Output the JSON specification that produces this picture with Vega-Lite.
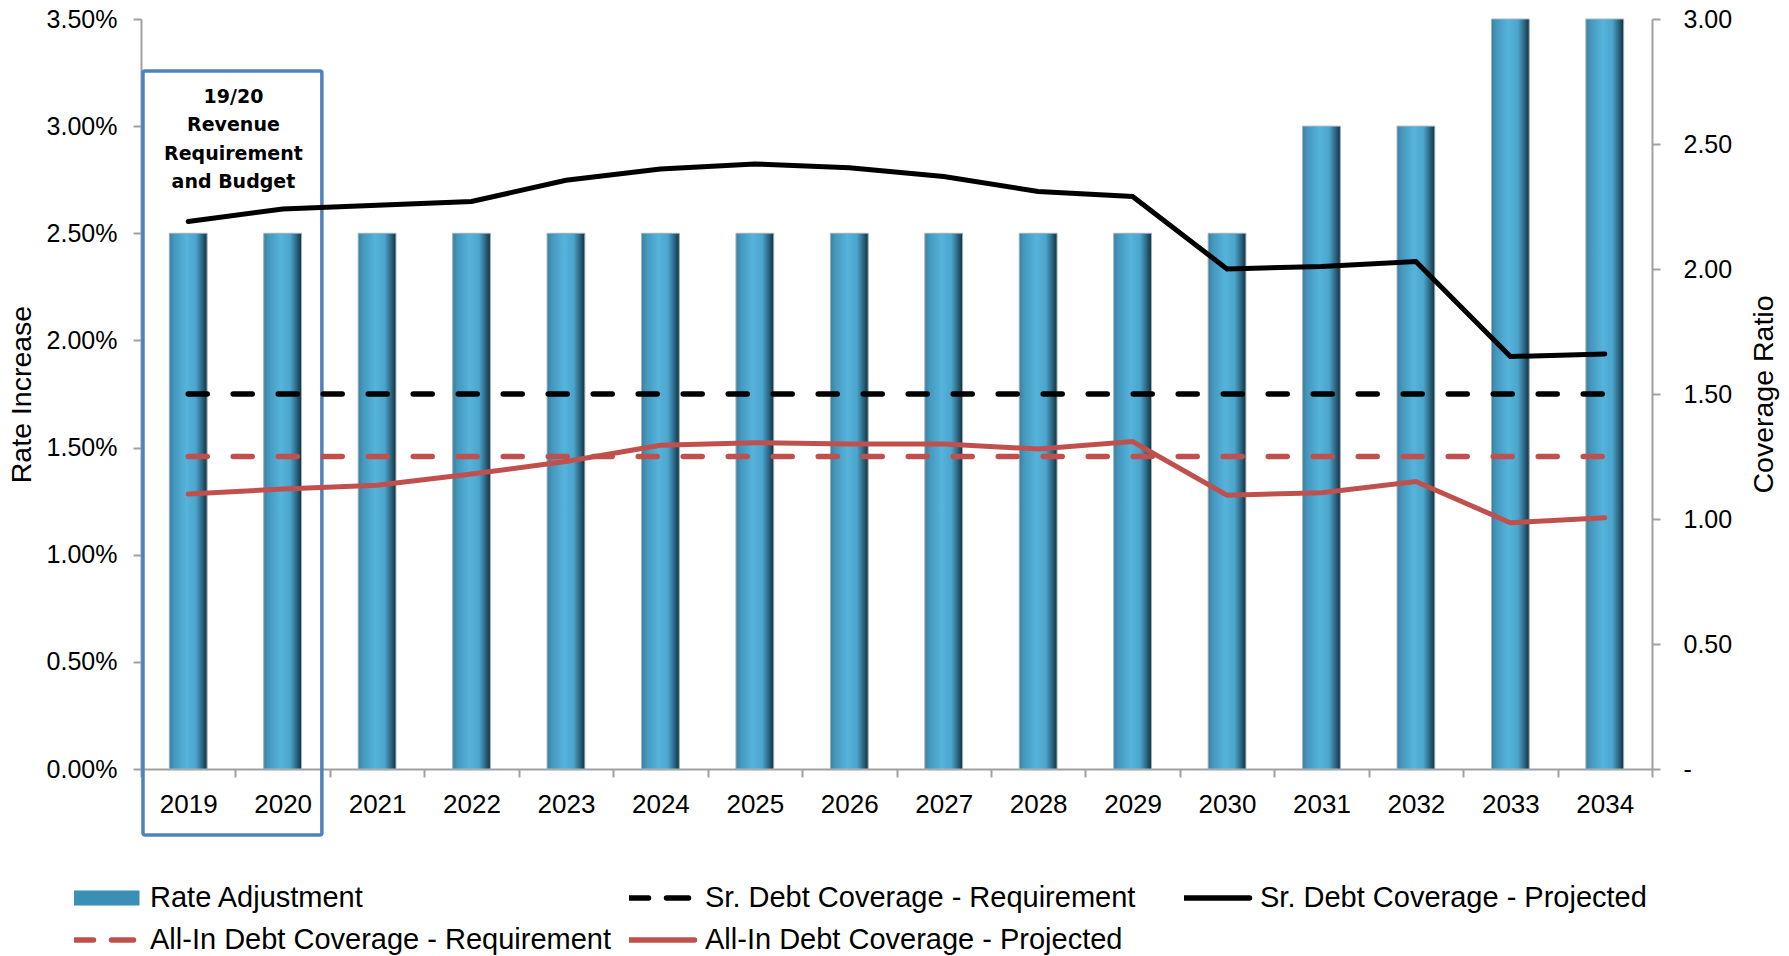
{
  "$schema": "https://vega.github.io/schema/vega-lite/v6.json",
  "width": 1511,
  "height": 750,
  "autosize": {"type": "none"},
  "padding": {"left": 141, "top": 19, "right": 137, "bottom": 187},
  "background": "white",
  "config": {
    "view": {"stroke": null},
    "font": "Liberation Sans",
    "axisX": {
      "labelAngle": 0,
      "tickBand": "extent",
      "tickSize": 8,
      "tickWidth": 2,
      "tickColor": "#a0a0a0",
      "domainColor": "#a0a0a0",
      "domainWidth": 2,
      "grid": false,
      "labelFont": "Liberation Sans",
      "labelFontSize": 26,
      "labelColor": "#000000",
      "labelPadding": 14
    }
  },
  "datasets": {
    "series": [
      {"year": "2019", "series": "Rate Adjustment", "value": 0.025},
      {"year": "2020", "series": "Rate Adjustment", "value": 0.025},
      {"year": "2021", "series": "Rate Adjustment", "value": 0.025},
      {"year": "2022", "series": "Rate Adjustment", "value": 0.025},
      {"year": "2023", "series": "Rate Adjustment", "value": 0.025},
      {"year": "2024", "series": "Rate Adjustment", "value": 0.025},
      {"year": "2025", "series": "Rate Adjustment", "value": 0.025},
      {"year": "2026", "series": "Rate Adjustment", "value": 0.025},
      {"year": "2027", "series": "Rate Adjustment", "value": 0.025},
      {"year": "2028", "series": "Rate Adjustment", "value": 0.025},
      {"year": "2029", "series": "Rate Adjustment", "value": 0.025},
      {"year": "2030", "series": "Rate Adjustment", "value": 0.025},
      {"year": "2031", "series": "Rate Adjustment", "value": 0.03},
      {"year": "2032", "series": "Rate Adjustment", "value": 0.03},
      {"year": "2033", "series": "Rate Adjustment", "value": 0.035},
      {"year": "2034", "series": "Rate Adjustment", "value": 0.035},
      {"year": "2019", "series": "Sr. Debt Coverage  - Requirement", "value": 1.5},
      {"year": "2020", "series": "Sr. Debt Coverage  - Requirement", "value": 1.5},
      {"year": "2021", "series": "Sr. Debt Coverage  - Requirement", "value": 1.5},
      {"year": "2022", "series": "Sr. Debt Coverage  - Requirement", "value": 1.5},
      {"year": "2023", "series": "Sr. Debt Coverage  - Requirement", "value": 1.5},
      {"year": "2024", "series": "Sr. Debt Coverage  - Requirement", "value": 1.5},
      {"year": "2025", "series": "Sr. Debt Coverage  - Requirement", "value": 1.5},
      {"year": "2026", "series": "Sr. Debt Coverage  - Requirement", "value": 1.5},
      {"year": "2027", "series": "Sr. Debt Coverage  - Requirement", "value": 1.5},
      {"year": "2028", "series": "Sr. Debt Coverage  - Requirement", "value": 1.5},
      {"year": "2029", "series": "Sr. Debt Coverage  - Requirement", "value": 1.5},
      {"year": "2030", "series": "Sr. Debt Coverage  - Requirement", "value": 1.5},
      {"year": "2031", "series": "Sr. Debt Coverage  - Requirement", "value": 1.5},
      {"year": "2032", "series": "Sr. Debt Coverage  - Requirement", "value": 1.5},
      {"year": "2033", "series": "Sr. Debt Coverage  - Requirement", "value": 1.5},
      {"year": "2034", "series": "Sr. Debt Coverage  - Requirement", "value": 1.5},
      {"year": "2019", "series": "Sr. Debt Coverage  - Projected", "value": 2.19},
      {"year": "2020", "series": "Sr. Debt Coverage  - Projected", "value": 2.24},
      {"year": "2021", "series": "Sr. Debt Coverage  - Projected", "value": 2.255},
      {"year": "2022", "series": "Sr. Debt Coverage  - Projected", "value": 2.27},
      {"year": "2023", "series": "Sr. Debt Coverage  - Projected", "value": 2.355},
      {"year": "2024", "series": "Sr. Debt Coverage  - Projected", "value": 2.4},
      {"year": "2025", "series": "Sr. Debt Coverage  - Projected", "value": 2.42},
      {"year": "2026", "series": "Sr. Debt Coverage  - Projected", "value": 2.405},
      {"year": "2027", "series": "Sr. Debt Coverage  - Projected", "value": 2.37},
      {"year": "2028", "series": "Sr. Debt Coverage  - Projected", "value": 2.31},
      {"year": "2029", "series": "Sr. Debt Coverage  - Projected", "value": 2.29},
      {"year": "2030", "series": "Sr. Debt Coverage  - Projected", "value": 2.0},
      {"year": "2031", "series": "Sr. Debt Coverage  - Projected", "value": 2.01},
      {"year": "2032", "series": "Sr. Debt Coverage  - Projected", "value": 2.03},
      {"year": "2033", "series": "Sr. Debt Coverage  - Projected", "value": 1.65},
      {"year": "2034", "series": "Sr. Debt Coverage  - Projected", "value": 1.66},
      {"year": "2019", "series": "All-In Debt Coverage - Requirement", "value": 1.25},
      {"year": "2020", "series": "All-In Debt Coverage - Requirement", "value": 1.25},
      {"year": "2021", "series": "All-In Debt Coverage - Requirement", "value": 1.25},
      {"year": "2022", "series": "All-In Debt Coverage - Requirement", "value": 1.25},
      {"year": "2023", "series": "All-In Debt Coverage - Requirement", "value": 1.25},
      {"year": "2024", "series": "All-In Debt Coverage - Requirement", "value": 1.25},
      {"year": "2025", "series": "All-In Debt Coverage - Requirement", "value": 1.25},
      {"year": "2026", "series": "All-In Debt Coverage - Requirement", "value": 1.25},
      {"year": "2027", "series": "All-In Debt Coverage - Requirement", "value": 1.25},
      {"year": "2028", "series": "All-In Debt Coverage - Requirement", "value": 1.25},
      {"year": "2029", "series": "All-In Debt Coverage - Requirement", "value": 1.25},
      {"year": "2030", "series": "All-In Debt Coverage - Requirement", "value": 1.25},
      {"year": "2031", "series": "All-In Debt Coverage - Requirement", "value": 1.25},
      {"year": "2032", "series": "All-In Debt Coverage - Requirement", "value": 1.25},
      {"year": "2033", "series": "All-In Debt Coverage - Requirement", "value": 1.25},
      {"year": "2034", "series": "All-In Debt Coverage - Requirement", "value": 1.25},
      {"year": "2019", "series": "All-In Debt Coverage - Projected", "value": 1.1},
      {"year": "2020", "series": "All-In Debt Coverage - Projected", "value": 1.12},
      {"year": "2021", "series": "All-In Debt Coverage - Projected", "value": 1.135},
      {"year": "2022", "series": "All-In Debt Coverage - Projected", "value": 1.18},
      {"year": "2023", "series": "All-In Debt Coverage - Projected", "value": 1.23},
      {"year": "2024", "series": "All-In Debt Coverage - Projected", "value": 1.295},
      {"year": "2025", "series": "All-In Debt Coverage - Projected", "value": 1.305},
      {"year": "2026", "series": "All-In Debt Coverage - Projected", "value": 1.3},
      {"year": "2027", "series": "All-In Debt Coverage - Projected", "value": 1.3},
      {"year": "2028", "series": "All-In Debt Coverage - Projected", "value": 1.28},
      {"year": "2029", "series": "All-In Debt Coverage - Projected", "value": 1.31},
      {"year": "2030", "series": "All-In Debt Coverage - Projected", "value": 1.095},
      {"year": "2031", "series": "All-In Debt Coverage - Projected", "value": 1.105},
      {"year": "2032", "series": "All-In Debt Coverage - Projected", "value": 1.15},
      {"year": "2033", "series": "All-In Debt Coverage - Projected", "value": 0.985},
      {"year": "2034", "series": "All-In Debt Coverage - Projected", "value": 1.005}
    ],
    "box": [
      {"year": "2019", "year2": "2020", "value": 0.032573, "value2": -0.00308}
    ],
    "notes": [
      {"year": "2019", "value": 0.03138, "label": "19/20"},
      {"year": "2019", "value": 0.03005, "label": "Revenue"},
      {"year": "2019", "value": 0.02870, "label": "Requirement"},
      {"year": "2019", "value": 0.02740, "label": "and Budget"}
    ]
  },
  "encoding": {
    "x": {
      "field": "year",
      "type": "nominal",
      "title": null,
      "sort": null,
      "scale": {
        "domain": ["2019","2020","2021","2022","2023","2024","2025","2026","2027","2028","2029","2030","2031","2032","2033","2034"],
        "paddingInner": 0,
        "paddingOuter": 0
      }
    }
  },
  "layer": [
    {
      "encoding": {
        "y": {
          "field": "value",
          "type": "quantitative",
          "title": "Rate Increase",
          "scale": {"domain": [0, 0.035], "nice": false, "zero": true},
          "axis": {
            "orient": "left",
            "values": [0, 0.005, 0.01, 0.015, 0.02, 0.025, 0.03, 0.035],
            "format": ".2%",
            "grid": false,
            "domainColor": "#a0a0a0",
            "domainWidth": 2,
            "tickColor": "#a0a0a0",
            "tickWidth": 2,
            "tickSize": 8,
            "labelPadding": 16,
            "labelFont": "Liberation Sans",
            "labelFontSize": 25,
            "labelColor": "#000000",
            "titleFont": "Liberation Sans",
            "titleFontSize": 28.5,
            "titleFontWeight": "normal",
            "titleColor": "#000000",
            "titleX": -120,
            "titleY": 375,
            "titleAngle": 270,
            "titleAlign": "center",
            "titleBaseline": "middle"
          }
        }
      },
      "layer": [
        {
          "data": {"name": "series"},
          "transform": [{"filter": {"field": "series", "equal": "Rate Adjustment"}}],
          "mark": {"type": "bar", "width": {"band": 0.4}},
          "encoding": {
            "color": {
              "field": "series",
              "type": "nominal",
              "scale": {
                "domain": ["Rate Adjustment", "Sr. Debt Coverage  - Requirement", "Sr. Debt Coverage  - Projected", "All-In Debt Coverage - Requirement", "All-In Debt Coverage - Projected"],
                "range": ["#3a8fb7", "#000000", "#000000", "#C0504D", "#C0504D"]
              },
              "legend": {
                "orient": "none",
                "legendX": -67,
                "legendY": 860,
                "direction": "horizontal",
                "columns": 3,
                "gridAlign": "all",
                "columnPadding": 18,
                "rowPadding": 4,
                "clipHeight": 38,
                "padding": 0,
                "title": null,
                "symbolType": "stroke",
                "symbolSize": 4624,
                "symbolStrokeWidth": 15,
                "symbolOffset": 17,
                "labelFont": "Liberation Sans",
                "labelFontSize": 29,
                "labelColor": "#000000",
                "labelOffset": 30,
                "labelLimit": 700,
                "encode": {
                  "symbols": {
                    "update": {
                      "stroke": {"scale": "color", "field": "value"},
                      "strokeWidth": {"signal": "datum.value === 'Rate Adjustment' ? 15 : 5.5"},
                      "strokeDash": {"signal": "indexof(datum.value, 'Requirement') >= 0 ? [22, 18] : []"},
                      "strokeCap": {"signal": "datum.value === 'Rate Adjustment' ? 'butt' : 'round'"}
                    }
                  }
                }
              }
            }
          }
        },
        {
          "data": {"name": "series"},
          "transform": [{"filter": {"field": "series", "equal": "Rate Adjustment"}}],
          "mark": {
            "type": "bar",
            "width": {"band": 0.4},
            "stroke": "#a8b4ba",
            "strokeWidth": 1,
            "fill": {
              "gradient": "linear",
              "x1": 0, "y1": 0, "x2": 1, "y2": 0,
              "stops": [
                {"offset": 0, "color": "#3a7f9f"},
                {"offset": 0.12, "color": "#4397bd"},
                {"offset": 0.45, "color": "#56b3db"},
                {"offset": 0.7, "color": "#4ba5cc"},
                {"offset": 0.86, "color": "#2e6a86"},
                {"offset": 1, "color": "#12303f"}
              ]
            }
          }
        },
        {
          "data": {"name": "box"},
          "mark": {"type": "rect", "filled": false, "stroke": "#4F81BD", "strokeWidth": 3.5, "cornerRadius": 2, "xOffset": 2, "x2Offset": -8},
          "encoding": {
            "x": {"field": "year", "type": "nominal", "title": null, "bandPosition": 0},
            "x2": {"field": "year2", "bandPosition": 1},
            "y2": {"field": "value2"}
          }
        },
        {
          "data": {"name": "notes"},
          "mark": {"type": "text", "font": "DejaVu Sans", "fontWeight": "bold", "fontSize": 19, "align": "center", "baseline": "middle", "xOffset": -2, "color": "#000000"},
          "encoding": {
            "x": {"field": "year", "type": "nominal", "title": null, "bandPosition": 1},
            "text": {"field": "label"}
          }
        }
      ]
    },
    {
      "data": {"name": "series"},
      "encoding": {
        "y": {
          "field": "value",
          "type": "quantitative",
          "title": "Coverage Ratio",
          "scale": {"domain": [0, 3], "nice": false, "zero": true},
          "axis": {
            "orient": "right",
            "values": [0, 0.5, 1, 1.5, 2, 2.5, 3],
            "labelExpr": "datum.value == 0 ? '-' : format(datum.value, '.2f')",
            "grid": false,
            "domainColor": "#a0a0a0",
            "domainWidth": 2,
            "tickColor": "#a0a0a0",
            "tickWidth": 2,
            "tickSize": 8,
            "labelPadding": 23,
            "labelFont": "Liberation Sans",
            "labelFontSize": 25,
            "labelColor": "#000000",
            "titleFont": "Liberation Sans",
            "titleFontSize": 28.5,
            "titleFontWeight": "normal",
            "titleColor": "#000000",
            "titleX": 111,
            "titleY": 375,
            "titleAngle": 270,
            "titleAlign": "center",
            "titleBaseline": "middle"
          }
        }
      },
      "layer": [
        {
          "transform": [{"filter": {"field": "series", "oneOf": ["Sr. Debt Coverage  - Requirement", "All-In Debt Coverage - Requirement"]}}],
          "mark": {"type": "line", "strokeWidth": 5.5, "strokeDash": [19, 26], "strokeCap": "round"},
          "encoding": {
            "color": {"field": "series", "type": "nominal"}
          }
        },
        {
          "transform": [{"filter": {"field": "series", "oneOf": ["Sr. Debt Coverage  - Projected", "All-In Debt Coverage - Projected"]}}],
          "mark": {"type": "line", "strokeWidth": 5, "strokeCap": "round"},
          "encoding": {
            "color": {"field": "series", "type": "nominal"}
          }
        }
      ]
    }
  ],
  "resolve": {"scale": {"y": "independent"}}
}
